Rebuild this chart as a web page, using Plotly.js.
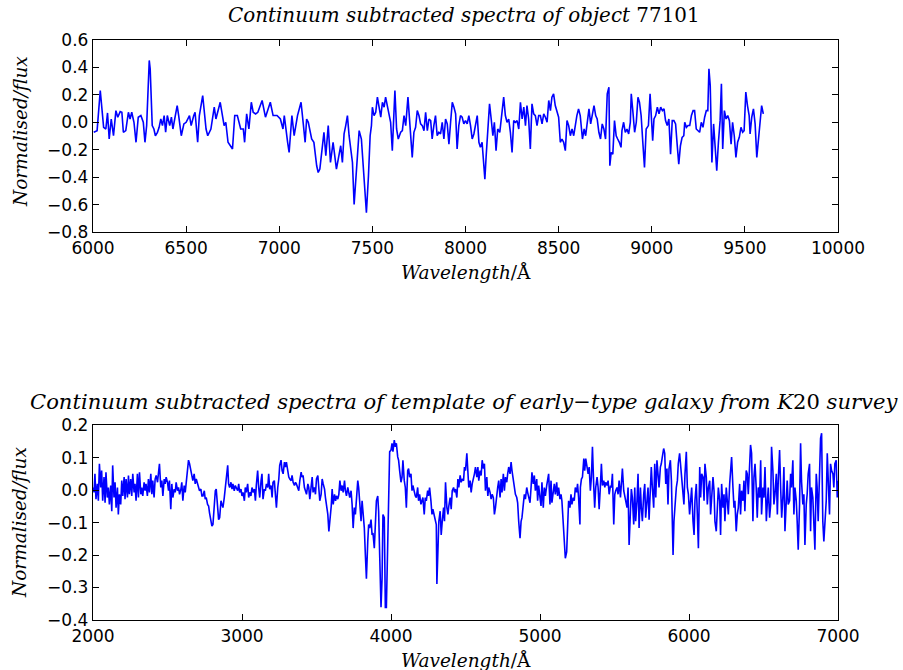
<!DOCTYPE html>
<html>
<head>
<meta charset="utf-8">
<script src="https://cdn.plot.ly/plotly-3.0.1.min.js"></script>
<style>html,body{margin:0;padding:0;background:#fff;}#chart{width:903px;height:670px;}</style>
</head>
<body>
<div id="chart"></div>
<script>
// Top panel: object 77101
var objWavelength = [
6004,6022,6039,6057,6069,6078,6087,6098,6110,6123,
6133,6146,6155,6163,6176,6190,6199,6208,6220,6231,
6243,6257,6270,6279,6288,6302,6307,6318,6327,6335,
6346,6355,6364,6373,6382,6390,6399,6412,6421,6429,
6442,6452,6460,6474,6488,6500,6518,6527,6541,6548,
6562,6571,6589,6607,6616,6633,6651,6660,6683,6704,
6713,6725,6749,6761,6775,6793,6807,6814,6825,6837,
6850,6860,6873,6885,6908,6926,6952,6967,6988,7006,
7020,7027,7045,7053,7068,7080,7098,7117,7130,7139,
7147,7156,7174,7186,7201,7209,7218,7231,7240,7250,
7263,7275,7289,7307,7325,7330,7339,7348,7357,7366,
7375,7384,7393,7402,7416,7429,7441,7455,7468,7479,
7488,7495,7500,7509,7518,7527,7536,7545,7554,7563,
7571,7580,7589,7598,7607,7616,7621,7630,7639,7652,
7661,7670,7679,7691,7702,7714,7723,7732,7741,7750,
7759,7768,7777,7786,7795,7804,7813,7821,7830,7839,
7848,7857,7866,7875,7884,7893,7902,7911,7920,7929,
7938,7947,7955,7964,7973,7982,7991,8000,8009,8018,
8027,8036,8045,8054,8063,8072,8080,8089,8098,8104,
8111,8120,8129,8138,8147,8155,8164,8173,8184,8197,
8205,8214,8223,8232,8241,8250,8259,8268,8277,8286,
8295,8304,8313,8322,8330,8339,8348,8357,8366,8375,
8384,8393,8402,8411,8420,8429,8438,8447,8456,8464,
8473,8482,8491,8500,8509,8518,8527,8536,8545,8554,
8563,8572,8581,8589,8598,8607,8616,8628,8637,8645,
8654,8663,8672,8681,8690,8699,8707,8716,8725,8734,
8743,8752,8761,8770,8775,8782,8791,8800,8809,8817,
8826,8835,8840,8849,8858,8867,8876,8885,8890,8899,
8908,8917,8926,8934,8943,8952,8961,8970,8982,8991,
9000,9005,9012,9021,9030,9039,9048,9057,9066,9074,
9083,9092,9101,9110,9119,9128,9137,9145,9154,9163,
9172,9177,9186,9195,9204,9213,9222,9230,9239,9248,
9257,9266,9275,9284,9293,9301,9307,9314,9323,9332,
9340,9349,9358,9367,9374,9381,9390,9399,9408,9417,
9426,9434,9443,9452,9461,9470,9479,9488,9496,9505,
9514,9523,9528,9537,9546,9555,9564,9573,9582,9590,
9599
];
var objFlux = [
-0.073,-0.061,0.232,-0.037,-0.049,0.068,-0.122,0.024,-0.098,0.085,
0.037,0.078,0.073,-0.073,-0.061,0.073,0.024,0.073,0,-0.146,
0.037,0.049,0,-0.146,-0.024,0.451,0.390,-0.024,-0.049,-0.098,
-0.073,-0.037,0.024,-0.024,0.049,-0.073,0.049,-0.024,0.037,-0.049,
0.049,0.122,0.049,-0.098,-0.012,0,0.049,-0.024,0.049,0.073,
-0.146,0.049,0.195,-0.049,-0.098,-0.049,0.110,0.024,0.146,-0.024,
0,-0.146,-0.195,0.049,0.049,-0.049,-0.049,-0.146,0.061,-0.049,
0.146,0.073,0.061,0.073,0.159,0.037,0.146,0.049,0.049,0.024,
-0.049,0.049,-0.146,-0.220,0.049,-0.098,0.049,0.146,-0.024,-0.146,
0.024,0,-0.122,-0.146,-0.317,-0.366,-0.341,-0.171,-0.073,-0.244,
-0.024,-0.293,-0.146,-0.341,-0.195,-0.171,-0.293,-0.085,-0.024,0.049,
-0.098,-0.220,-0.293,-0.600,-0.317,-0.061,-0.122,-0.366,-0.660,-0.390,
-0.098,-0.024,0.110,0.049,0.073,0.183,0.110,0.037,0.146,0.110,
0.183,0.122,0.049,0,-0.207,0.073,0.232,-0.049,-0.122,-0.073,
-0.061,0.049,-0.024,0.183,-0.049,-0.256,-0.073,-0.037,0.085,0.049,
-0.012,-0.024,-0.061,0.073,-0.061,0.024,0.012,-0.122,-0.024,0.049,
-0.098,-0.073,-0.085,0,-0.122,0.024,-0.012,-0.159,0,0.146,
0.110,0.061,-0.195,-0.024,0.049,0.037,-0.012,0.012,-0.012,0.049,
-0.024,-0.122,-0.085,-0.024,0.049,-0.146,-0.183,-0.146,-0.329,-0.415,
-0.244,-0.024,0.134,0.024,-0.098,0,-0.207,-0.049,-0.073,0.085,
0.183,0.049,0,0.024,-0.073,-0.220,0.012,0,0.012,-0.049,
0.146,0.024,0.110,-0.024,0.122,0.024,-0.195,0.134,0.061,0.049,
-0.024,0.049,0.049,-0.012,0.061,0.037,0,0.159,0.085,0.183,
0.207,0.122,0.085,0.037,-0.146,-0.122,-0.146,-0.207,0.012,-0.024,
-0.098,-0.049,-0.098,-0.024,0.049,0.098,0.049,-0.122,-0.049,-0.098,
0,0.098,-0.012,0.061,0.122,0.049,0.024,-0.073,-0.122,-0.012,
-0.049,-0.122,0.207,0.256,-0.317,-0.220,-0.232,0.012,-0.098,-0.122,
-0.146,-0.183,-0.061,0,-0.073,-0.049,-0.085,0,0.207,0.073,
-0.073,0,0.183,0.146,0.049,-0.146,-0.329,-0.049,-0.024,0.207,
0.024,-0.134,0.024,0.049,0.110,0.061,0.110,0.085,0.098,0.012,
-0.024,0.024,-0.232,0.012,0.012,-0.012,-0.171,-0.305,-0.171,-0.110,
-0.098,0,-0.037,-0.024,-0.024,0.049,0.085,0.085,-0.049,-0.061,
-0.073,0,-0.037,0.037,0.085,0.085,0.390,0.268,-0.293,-0.012,
-0.159,-0.354,-0.146,0.012,0.280,-0.195,0.085,0.024,0.049,0.012,
-0.159,0,-0.098,-0.256,-0.146,-0.110,-0.037,-0.073,-0.061,0.220,
0.122,0.049,-0.085,0.037,0.098,-0.012,-0.256,-0.122,0,0.122,
0.061
];

// Bottom panel: early-type galaxy template (K20 survey)
var tplWavelength = [
2000,2007,2013,2020,2029,2036,2043,2052,2058,2065,
2074,2081,2087,2096,2103,2110,2119,2126,2132,2141,
2148,2155,2164,2170,2177,2186,2193,2200,2209,2215,
2222,2231,2238,2244,2253,2260,2267,2276,2282,2289,
2298,2305,2312,2321,2327,2334,2343,2350,2356,2365,
2372,2379,2388,2395,2401,2410,2417,2424,2433,2439,
2446,2455,2462,2469,2478,2484,2491,2500,2507,2513,
2522,2529,2536,2545,2552,2558,2567,2574,2581,2590,
2596,2603,2612,2619,2626,2634,2641,2648,2657,2664,
2670,2679,2686,2693,2702,2708,2715,2724,2731,2738,
2747,2753,2760,2769,2776,2782,2791,2798,2805,2814,
2821,2827,2836,2843,2850,2859,2865,2872,2881,2888,
2895,2904,2910,2917,2926,2933,2939,2948,2955,2962,
2971,2978,2984,2993,3000,3007,3016,3022,3029,3038,
3045,3052,3060,3067,3074,3083,3090,3096,3105,3112,
3119,3128,3134,3141,3150,3157,3164,3173,3179,3186,
3195,3202,3208,3217,3224,3231,3240,3247,3253,3262,
3269,3276,3285,3291,3298,3307,3314,3321,3330,3336,
3343,3352,3359,3365,3374,3381,3388,3397,3403,3410,
3419,3426,3433,3442,3448,3455,3464,3471,3477,3486,
3493,3500,3509,3516,3522,3531,3538,3545,3554,3560,
3567,3576,3583,3590,3599,3605,3612,3621,3628,3634,
3643,3650,3657,3665,3672,3679,3688,3694,3701,3710,
3717,3723,3732,3739,3746,3754,3761,3768,3777,3783,
3790,3799,3806,3813,3821,3828,3835,3844,3850,3857,
3866,3873,3879,3888,3895,3902,3911,3917,3924,3933,
3940,3946,3955,3962,3969,3978,3984,3991,4000,4007,
4013,4022,4029,4036,4045,4051,4058,4067,4074,4080,
4089,4096,4103,4112,4118,4125,4134,4141,4147,4156,
4163,4170,4179,4185,4192,4201,4208,4214,4223,4230,
4237,4246,4252,4259,4268,4275,4281,4290,4297,4304,
4308,4315,4321,4330,4337,4344,4353,4359,4366,4375,
4382,4388,4397,4404,4411,4420,4426,4433,4442,4449,
4455,4464,4471,4478,4487,4493,4500,4509,4516,4522,
4531,4538,4545,4554,4560,4567,4576,4583,4589,4598,
4605,4612,4620,4627,4634,4643,4650,4656,4665,4672,
4679,4687,4694,4701,4710,4716,4723,4732,4739,4745,
4754,4761,4768,4777,4783,4790,4799,4806,4812,4821,
4828,4835,4844,4850,4857,4866,4873,4879,4888,4895,
4902,4911,4917,4924,4933,4940,4946,4955,4962,4969,
4978,4984,4991,5000,5007,5013,5022,5029,5036,5045,
5051,5058,5067,5074,5080,5089,5096,5103,5112,5118,
5125,5134,5141,5147,5156,5163,5170,5179,5185,5192,
5201,5208,5214,5223,5230,5237,5246,5252,5259,5268,
5271,5278,5285,5294,5300,5307,5316,5323,5330,5338,
5345,5352,5361,5367,5374,5383,5390,5397,5405,5412,
5419,5428,5435,5441,5450,5457,5464,5473,5479,5486,
5495,5502,5508,5517,5524,5531,5540,5546,5553,5562,
5569,5575,5584,5591,5598,5607,5613,5620,5629,5636,
5642,5651,5658,5665,5674,5680,5687,5696,5703,5709,
5718,5725,5732,5741,5747,5754,5763,5770,5777,5785,
5792,5799,5808,5814,5821,5830,5837,5844,5852,5859,
5866,5875,5882,5888,5893,5899,5906,5915,5922,5928,
5937,5944,5951,5960,5966,5973,5982,5989,5996,6004,
6011,6018,6027,6034,6040,6049,6056,6063,6072,6078,
6085,6094,6101,6107,6116,6123,6130,6139,6145,6152,
6161,6168,6174,6183,6190,6197,6206,6212,6219,6228,
6235,6241,6250,6257,6264,6273,6279,6286,6295,6302,
6308,6317,6324,6331,6340,6346,6353,6362,6369,6375,
6384,6391,6398,6407,6413,6420,6429,6436,6443,6451,
6458,6465,6474,6481,6487,6496,6503,6510,6519,6525,
6532,6541,6548,6554,6563,6570,6577,6586,6593,6599,
6608,6615,6622,6631,6637,6644,6653,6659,6666,6675,
6682,6688,6697,6704,6711,6720,6726,6733,6742,6749,
6755,6764,6771,6778,6787,6793,6800,6809,6816,6822,
6831,6838,6845,6854,6860,6867,6876,6883,6890,6898,
6905,6912,6921,6928,6935,6943,6950,6957,6966,6972,
6979,6988,6995,6999
];
var tplFlux = [
0.008,-0.007,0.050,-0.028,0.019,-0.033,0.081,0.008,0.060,-0.033,
0.040,-0.039,0.055,-0.023,0.008,-0.044,0.014,-0.065,0.076,-0.023,
0.024,-0.054,0.008,-0.075,-0.013,-0.044,0.029,-0.018,0.040,-0.028,
0.034,-0.023,0.045,-0.013,0.034,-0.018,0.050,-0.007,0.019,-0.033,
0.050,-0.023,0.055,-0.013,0.008,-0.018,0.024,-0.002,0.019,-0.018,
0.034,-0.007,0.050,-0.013,0.029,-0.023,0.034,0.045,0.024,0.066,
0.081,0.008,0.029,-0.018,0.034,0.019,0.040,0.024,-0.002,0.029,
-0.059,0.019,-0.023,0.003,-0.007,0.024,-0.002,0.008,-0.013,0.003,
0.024,-0.033,0.014,-0.007,0.024,0.050,0.092,0.081,0.060,0.045,
0.029,0.050,0.019,0.034,0.019,0.008,-0.002,0.003,-0.018,-0.018,
-0.002,-0.028,-0.023,-0.044,-0.049,-0.070,-0.096,-0.111,-0.106,-0.023,
-0.002,0.003,-0.039,-0.091,-0.085,-0.033,-0.044,-0.054,-0.023,0.008,
0.034,0.076,0.019,0.008,0.024,0.003,0.019,-0.002,0.014,0.008,
-0.002,0.019,-0.007,0.003,-0.018,-0.007,-0.033,0.008,-0.007,0.019,
-0.023,-0.007,-0.018,0.008,-0.007,0.003,-0.033,0.014,0.060,0.008,
-0.023,0.029,0.050,-0.028,0.003,-0.002,0.019,0.008,0.050,0.003,
0.014,-0.023,0.024,0.029,-0.007,-0.054,0.008,0.034,0.076,0.092,
0.060,0.050,0.086,0.071,0.086,0.050,0.040,0.034,0.029,0.045,
0.024,0.014,0.024,0.019,0.003,-0.002,0.029,0.055,0.040,0.045,
0.008,-0.002,-0.013,0.019,0.008,-0.028,0.008,0.040,-0.007,0.008,
-0.013,0.034,0.045,-0.002,-0.033,-0.013,0.034,0.019,0.003,-0.023,
-0.044,-0.075,-0.127,-0.096,-0.049,0.003,-0.044,-0.013,-0.033,-0.018,
-0.028,-0.013,0.029,-0.002,0.014,-0.007,0.029,-0.002,-0.018,0.008,
-0.007,-0.023,-0.002,-0.044,-0.117,-0.054,-0.075,-0.023,0.029,0.008,
-0.044,-0.096,-0.033,-0.075,-0.117,-0.200,-0.273,-0.158,-0.106,-0.117,
-0.091,-0.138,-0.132,-0.179,-0.085,-0.033,-0.018,-0.065,-0.200,-0.361,
-0.273,-0.075,-0.085,-0.361,-0.361,-0.148,0.050,0.118,0.123,0.144,
0.118,0.154,0.133,0.144,0.102,0.092,0.060,0.024,0.040,0.092,
0.029,0.008,-0.054,0.060,0.066,0.040,0.050,-0.002,0.014,-0.007,
-0.018,-0.023,0.008,-0.033,-0.013,-0.044,-0.033,-0.023,-0.075,-0.023,
-0.033,-0.002,-0.018,0.008,-0.033,-0.075,-0.059,-0.075,-0.096,-0.106,
-0.289,-0.179,-0.096,-0.065,-0.138,-0.096,-0.054,-0.096,0.024,-0.054,
-0.075,-0.049,-0.023,-0.059,-0.002,0.008,-0.007,0.003,-0.023,0.034,
0.008,0.045,0.024,0.034,0.029,0.071,0.060,0.113,0.060,0.008,
0.029,-0.007,0.019,0.034,0.050,0.071,0.040,0.071,0.029,0.060,
0.045,0.092,0.066,0.081,-0.002,0.040,-0.018,0.008,-0.007,-0.028,
-0.013,-0.023,-0.075,-0.054,-0.007,0.008,0.029,-0.023,0.034,-0.007,
0.050,-0.002,0.040,0.024,0.050,0.071,0.050,0.086,0.060,0.034,
0.019,-0.013,-0.023,-0.039,-0.096,-0.148,-0.096,-0.085,-0.044,-0.013,
-0.028,0.008,-0.007,-0.018,-0.039,0.008,0.055,0.019,0.045,-0.002,
0.034,-0.033,0.014,-0.023,-0.049,0.024,-0.054,0.008,-0.018,0.014,
0.029,0.050,-0.044,0.029,-0.039,0.008,0.019,-0.013,0.024,-0.018,
0.008,-0.028,-0.013,-0.033,-0.096,-0.158,-0.210,-0.190,-0.117,-0.033,
-0.054,-0.013,-0.044,-0.023,-0.033,0.008,-0.007,0.019,-0.023,-0.106,
0.008,0.034,0.040,0.097,0.060,0.097,0.071,0.050,0.071,-0.002,
0.040,0.133,0.008,-0.054,0.008,0.040,0.008,-0.059,0.008,0.081,
0.014,0.029,0.008,0.024,0.014,0.029,-0.013,0.014,0.008,0.050,
-0.106,-0.013,-0.002,0.008,-0.013,0.029,-0.023,0.034,0.066,-0.002,
-0.018,-0.023,-0.054,0.008,-0.169,-0.065,0.003,-0.023,-0.106,0.008,
-0.096,-0.033,0.050,-0.117,0.008,-0.054,-0.096,-0.013,0.019,-0.085,
-0.044,0.008,-0.091,0.050,0.071,0.008,-0.054,0.081,-0.023,0.092,
0.050,0.008,0.071,0.081,0.102,0.128,0.113,0.019,0.066,-0.044,
0.066,0.092,0.029,-0.106,-0.200,-0.096,-0.033,0.008,0.029,0.081,
0.113,0.071,0.024,-0.018,-0.044,0.050,0.118,0.008,-0.013,-0.075,
-0.044,0.008,-0.096,-0.138,-0.033,0.019,-0.075,-0.179,0.071,-0.023,
0.050,0.040,-0.033,0.081,0.040,-0.044,0.008,0.029,-0.075,-0.023,
0.040,-0.002,-0.096,-0.127,-0.044,0.008,-0.033,-0.138,0.019,-0.054,
-0.013,-0.096,0.008,-0.044,-0.075,0.019,0.060,0.102,0.008,-0.054,
-0.033,-0.127,-0.075,-0.054,0.019,-0.075,-0.002,-0.033,0.029,-0.065,
0.060,0.050,-0.013,0.081,0.139,0.113,-0.096,0.040,0.081,0.008,
-0.085,0.008,-0.023,0.092,-0.075,0.008,-0.023,0.071,-0.096,-0.044,
0.008,-0.085,-0.044,0.133,0.060,-0.044,-0.013,0.050,-0.075,0.029,
0.123,0.008,-0.085,-0.013,0.071,-0.127,0.008,0.029,-0.044,-0.033,
0.050,0.008,0.092,-0.075,0.008,-0.033,-0.096,-0.184,-0.044,0.144,
0.029,-0.044,-0.013,-0.169,-0.044,-0.013,0.050,0.081,-0.127,0.008,
-0.023,-0.096,-0.184,0.050,0.008,-0.096,0.092,0.159,0.175,-0.096,
-0.158,-0.096,-0.033,0.113,0.008,-0.075,0.081,0.060,0.050,0.008,
0.081,0.092,-0.023,0.029
];

var topTitle = "<i>Continuum subtracted spectra of object</i> 77101";
var bottomTitle = "<i>Continuum subtracted spectra of template of early</i>\u2212<i>type galaxy from K</i>20 <i>survey</i>";
var xLabel = "<i>Wavelength</i>/\u00C5";
var yLabel = "<i>Normalised/flux</i>";

var lineStyle = {color: '#0000ff', width: 1.6};
var traces = [
  {x: objWavelength, y: objFlux, type: 'scatter', mode: 'lines', line: lineStyle, xaxis: 'x', yaxis: 'y', hoverinfo: 'skip'},
  {x: tplWavelength, y: tplFlux, type: 'scatter', mode: 'lines', line: lineStyle, xaxis: 'x2', yaxis: 'y2', hoverinfo: 'skip'}
];

var tickFont = {family: 'DejaVu Sans', size: 17, color: '#000'};
function axisBase(extra) {
  var a = {
    showline: true, linecolor: '#000', linewidth: 1.2, mirror: 'allticks',
    ticks: 'inside', ticklen: 6, tickwidth: 1, tickcolor: '#000',
    showgrid: false, zeroline: false, tickfont: tickFont, fixedrange: true
  };
  for (var k in extra) a[k] = extra[k];
  return a;
}

var serif = 'DejaVu Serif, serif';
var layout = {
  width: 903, height: 670,
  margin: {l: 93, r: 65, t: 40, b: 50},
  paper_bgcolor: '#fff', plot_bgcolor: '#fff',
  showlegend: false,
  xaxis: axisBase({domain: [0, 1], anchor: 'y', range: [6000, 10000], tick0: 6000, dtick: 500, tickformat: 'd'}),
  yaxis: axisBase({domain: [0.669, 1], anchor: 'x', range: [-0.8, 0.6], tick0: 0, dtick: 0.2, tickformat: '.1f'}),
  xaxis2: axisBase({domain: [0, 1], anchor: 'y2', range: [2000, 7000], tick0: 2000, dtick: 1000, tickformat: 'd'}),
  yaxis2: axisBase({domain: [0, 0.336], anchor: 'x2', range: [-0.4, 0.2], tick0: 0, dtick: 0.1, tickformat: '.1f'}),
  annotations: [
    {text: topTitle, xref: 'paper', yref: 'paper', x: 0.498, y: 1.043, xanchor: 'center', yanchor: 'middle', showarrow: false, font: {family: serif, size: 19.9, color: '#000'}},
    {text: bottomTitle, xref: 'paper', yref: 'paper', x: 0.498, y: 0.376, xanchor: 'center', yanchor: 'middle', showarrow: false, font: {family: serif, size: 21.1, color: '#000'}},
    {text: xLabel, xref: 'paper', yref: 'paper', x: 0.5, y: 0.600, xanchor: 'center', yanchor: 'middle', showarrow: false, font: {family: serif, size: 18.5, color: '#000'}},
    {text: xLabel, xref: 'paper', yref: 'paper', x: 0.5, y: -0.069, xanchor: 'center', yanchor: 'middle', showarrow: false, font: {family: serif, size: 18.5, color: '#000'}},
    {text: yLabel, xref: 'paper', yref: 'paper', x: -0.098, y: 0.843, xanchor: 'center', yanchor: 'middle', textangle: -90, showarrow: false, font: {family: serif, size: 18.5, color: '#000'}},
    {text: yLabel, xref: 'paper', yref: 'paper', x: -0.098, y: 0.169, xanchor: 'center', yanchor: 'middle', textangle: -90, showarrow: false, font: {family: serif, size: 18.5, color: '#000'}}
  ]
};

Plotly.newPlot('chart', traces, layout, {staticPlot: true, displayModeBar: false});
</script>
</body>
</html>
